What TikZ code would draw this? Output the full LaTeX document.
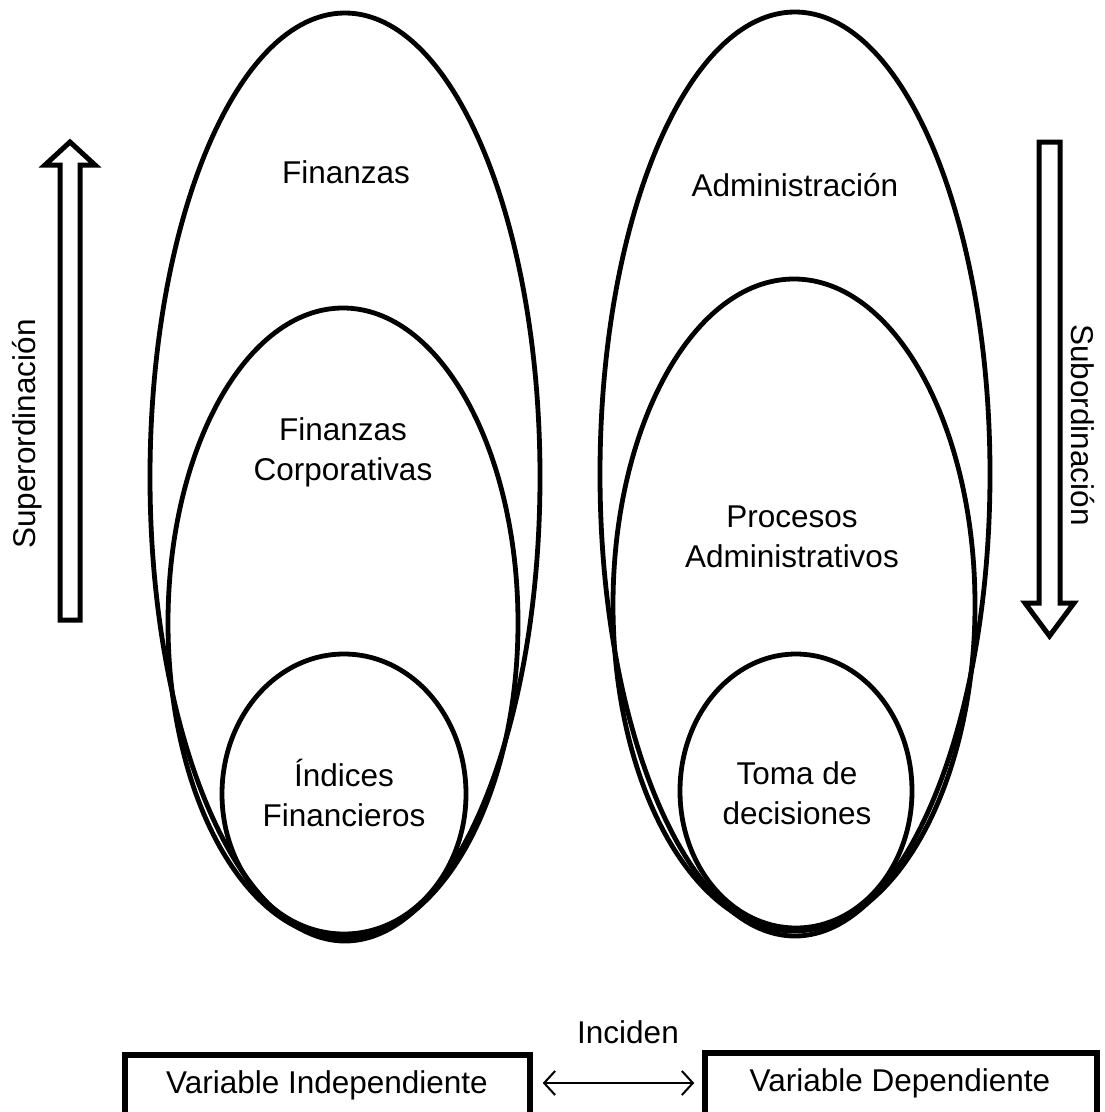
\documentclass[tikz,border=0pt]{standalone}
\usepackage{fontspec}
\setmainfont{Liberation Sans}
\usetikzlibrary{arrows.meta}
\begin{document}
\begin{tikzpicture}[x=1pt,y=-1pt,
  ring/.style={line width=4.8pt},
  label/.style={font=\fontsize{31.5}{40}\selectfont, align=center, inner sep=0pt},
  sidetext/.style={font=\fontsize{31.5}{37}\selectfont, inner sep=0pt},
  fatarrow/.style={line width=5pt, line join=miter, fill=white},
  varbox/.style={draw, line width=5.5pt, inner sep=0pt}
]
\clip (0,0) rectangle (1105,1112);
\fill[white] (0,0) rectangle (1105,1112);

% left family of nested ellipses
\draw[ring] (345,477) ellipse [x radius=195, y radius=464];
\draw[ring] (343,623) ellipse [x radius=175, y radius=315];
\draw[ring] (344,794) ellipse [x radius=122, y radius=140];

% right family of nested ellipses
\draw[ring] (795,474) ellipse [x radius=195, y radius=462];
\draw[ring] (794,605) ellipse [x radius=181, y radius=326];
\draw[ring] (796,791) ellipse [x radius=116, y radius=137];

% ellipse labels
\node[label] (fin) at (346,172) {Finanzas};
\node[label] (fincorp) at (343,452) {Finanzas\\Corporativas};
\node[label] (indices) at (344,793) {Índices\\Financieros};
\node[label] (adm) at (795,185) {Administración};
\node[label] (proc) at (792,537) {Procesos\\Administrativos};
\node[label] (toma) at (797,793) {Toma de\\decisiones};

% block arrows at the sides
\draw[fatarrow] (60,620) -- (60,165) -- (45,165) -- (70,142) -- (95,165) -- (80,165) -- (80,620) -- cycle;
\draw[fatarrow] (1039,142) -- (1039,603) -- (1025,603) -- (1049.5,636) -- (1074,603) -- (1060,603) -- (1060,142) -- cycle;
\node[sidetext, rotate=90] (super) at (27,434) {Superordinación};
\node[sidetext, rotate=-90] (sub) at (1083,425) {Subordinación};

% variables at the bottom
\node[varbox, minimum width=405, minimum height=110] (vi) at (327.5,1110) {};
\node[varbox, minimum width=392, minimum height=110] (vd) at (901,1108) {};
\node[label] (vitext) at (327,1085) {Variable Independiente};
\node[label] (vdtext) at (900,1083) {Variable Dependiente};
\coordinate (la) at (vi.east |- 0,1083);
\coordinate (ra) at (vd.west |- 0,1083);
\draw[line width=2pt, {Straight Barb[length=11pt,width=24pt,line width=2pt]}-{Straight Barb[length=11pt,width=24pt,line width=2pt]}, shorten <=10pt, shorten >=8pt] (la) -- (ra);
\node[label] (inc) at (628,1032) {Inciden};
\end{tikzpicture}
\end{document}
